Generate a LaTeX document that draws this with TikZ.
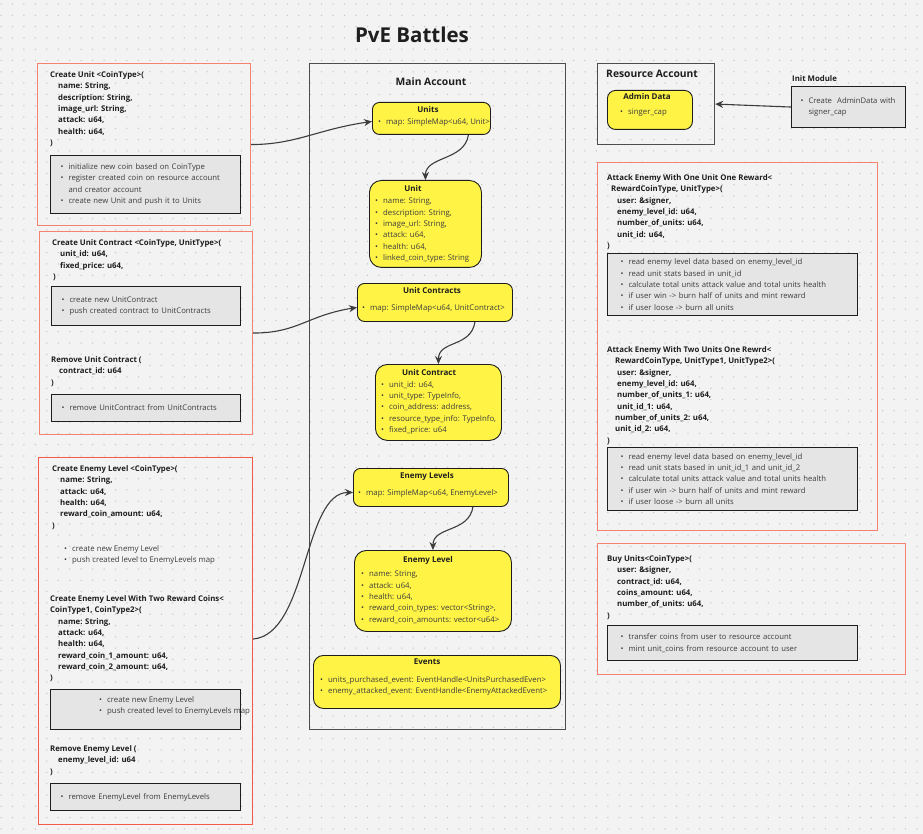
\documentclass[tikz,border=0pt]{standalone}
\usepackage{fontspec}
\setmainfont{Open Sans}
\usepackage{tikz}
\usetikzlibrary{positioning,arrows.meta}

\definecolor{bg}{HTML}{F3F3F3}
\definecolor{dotgray}{HTML}{C6C6C6}
\definecolor{salmon}{HTML}{F4826E}
\definecolor{redline}{HTML}{F45A46}
\definecolor{notegray}{HTML}{E5E5E5}
\definecolor{ink}{HTML}{1E1E1E}
\definecolor{soft}{HTML}{3C3C3C}
\definecolor{frameline}{HTML}{4D4D4D}
\definecolor{yel}{HTML}{FFF445}

\newcommand{\bl}{\makebox[8pt][l]{\textbullet}}
\newcommand{\ind}[1]{\hspace*{#1pt}}

\tikzset{
  sig/.style={anchor=north west,inner sep=0pt,align=left,text=ink,font=\bfseries\fontsize{7.8}{11.3}\selectfont},
  lst/.style={anchor=north west,inner sep=0pt,align=left,text=soft,font=\fontsize{7.8}{11.3}\selectfont},
  fnframe/.style={draw=salmon,line width=1.1pt,anchor=north west,inner sep=0pt},
  acct/.style={draw=frameline,line width=1.1pt,anchor=north west,inner sep=0pt},
  note/.style={draw=ink,fill=notegray,line width=1.1pt,anchor=north west,inner xsep=10pt,inner ysep=0pt,align=left,text=soft,font=\fontsize{7.7}{11.3}\selectfont},
  ybox/.style={draw=ink,fill=yel,line width=0.9pt,anchor=north west,inner sep=0pt,rounded corners=7pt},
  ytitle/.style={inner sep=0pt,text=ink,font=\bfseries\fontsize{8}{9}\selectfont},
  acctitle/.style={inner sep=0pt,text=ink,font=\bfseries\fontsize{10.3}{12}\selectfont},
  link/.style={draw=soft,line width=1.1pt,-{Stealth[length=8pt,width=7pt]}},
}

\begin{document}
\begin{tikzpicture}[x=1pt,y=-1pt]
  \useasboundingbox (0,0) rectangle (923,834);
  \fill[bg] (0,0) rectangle (923,834);
  \foreach \i in {0,...,80}{
    \foreach \j in {0,...,73}{
      \fill[dotgray] ({1+\i*11.45},{4+\j*11.3}) circle (0.75);
    }
  }

  \node[inner sep=0pt,text=ink,font=\bfseries\fontsize{20.5}{22}\selectfont] (title) at (412,35) {PvE Battles};

  % left column
  \node[fnframe,minimum width=213,minimum height=162] (boxA) at (37,63) {};
  \node[sig] (sigA) at (50,71.5) {Create Unit <CoinType>(\\ \ind{8}name: String,\\ \ind{8}description: String,\\ \ind{8}image\_url: String,\\ \ind{8}attack: u64,\\ \ind{8}health: u64,\\ )};
  \node[note,minimum width=190,minimum height=58,text width=170] (noteA) at (50,155) {\bl initialize new coin based on CoinType\\ \bl register created coin on resource account\\ \ind{8}and creator account\\ \bl create new Unit and push it to Units};

  \node[fnframe,minimum width=213,minimum height=203] (boxB) at (39,231) {};
  \node[sig] (sigB) at (52,239.5) {Create Unit Contract <CoinType, UnitType>(\\ \ind{8}unit\_id: u64,\\ \ind{8}fixed\_price: u64,\\ \ind{1})};
  \node[note,minimum width=189,minimum height=39,text width=169] (noteB) at (51,286) {\bl create new UnitContract\\ \bl push created contract to UnitContracts};
  \node[sig] (sigBrm) at (51,356.5) {Remove Unit Contract (\\ \ind{8}contract\_id: u64\\ )};
  \node[note,minimum width=189,minimum height=27,text width=169] (noteBrm) at (51,394) {\bl remove UnitContract from UnitContracts};

  \node[fnframe,draw=redline,minimum width=214,minimum height=367] (boxC) at (38,457) {};
  \node[sig] (sigC) at (52,465.5) {Create Enemy Level <CoinType>(\\ \ind{8}name: String,\\ \ind{8}attack: u64,\\ \ind{8}health: u64,\\ \ind{8}reward\_coin\_amount: u64,\\ )};
  \node[lst] (lstC) at (64,545) {\bl create new Enemy Level\\ \bl push created level to EnemyLevels map};
  \node[sig] (sigCtwo) at (50,595.5) {Create Enemy Level With Two Reward Coins<\\ CoinType1, CoinType2>(\\ \ind{8}name: String,\\ \ind{8}attack: u64,\\ \ind{8}health: u64,\\ \ind{8}reward\_coin\_1\_amount: u64,\\ \ind{8}reward\_coin\_2\_amount: u64,\\ )};
  \node[note,minimum width=190,minimum height=40] (noteCtwo) at (50,689) {};
  \node[lst] (lstCtwo) at (99,696) {\bl create new Enemy Level\\ \bl push created level to EnemyLevels map};
  \node[sig] (sigCrm) at (50,745.5) {Remove Enemy Level (\\ \ind{8}enemy\_level\_id: u64\\ )};
  \node[note,minimum width=190,minimum height=27,text width=170] (noteCrm) at (50,783) {\bl remove EnemyLevel from EnemyLevels};

  % main account
  \node[acct,minimum width=256,minimum height=666] (main) at (309,63) {};
  \node[acctitle] (mainT) at (431,82) {Main Account};

  \node[ybox,minimum width=118,minimum height=32] (units) at (372,102) {};
  \node[ytitle] (unitsT) at (428,110) {Units};
  \node[lst] (unitsL) at (378,118) {\bl map: SimpleMap<u64, Unit>};

  \node[ybox,rounded corners=12pt,minimum width=112,minimum height=87] (unit) at (369,180) {};
  \node[ytitle] (unitT) at (413,189) {Unit};
  \node[lst] (unitL) at (375,198) {\bl name: String,\\ \bl description: String,\\ \bl image\_url: String,\\ \bl attack: u64,\\ \bl health: u64,\\ \bl linked\_coin\_type: String};

  \node[ybox,minimum width=155,minimum height=38] (ucs) at (357,283) {};
  \node[ytitle] (ucsT) at (432,291) {Unit Contracts};
  \node[lst] (ucsL) at (362,304) {\bl map: SimpleMap<u64, UnitContract>};

  \node[ybox,rounded corners=12pt,minimum width=126,minimum height=76] (uc) at (375,364) {};
  \node[ytitle] (ucT) at (429,372) {Unit Contract};
  \node[lst] (ucL) at (381,381) {\bl unit\_id: u64,\\ \bl unit\_type: TypeInfo,\\ \bl coin\_address: address,\\ \bl resource\_type\_info: TypeInfo,\\ \bl fixed\_price: u64};

  \node[ybox,minimum width=155,minimum height=38] (els) at (353,468) {};
  \node[ytitle] (elsT) at (427,476) {Enemy Levels};
  \node[lst] (elsL) at (358,489) {\bl map: SimpleMap<u64, EnemyLevel>};

  \node[ybox,rounded corners=12pt,minimum width=157,minimum height=81] (el) at (354,550) {};
  \node[ytitle] (elT) at (428,560) {Enemy Level};
  \node[lst] (elL) at (361,571) {\bl name: String,\\ \bl attack: u64,\\ \bl health: u64,\\ \bl reward\_coin\_types: vector<String>,\\ \bl reward\_coin\_amounts: vector<u64>};

  \node[ybox,rounded corners=10pt,minimum width=247,minimum height=53] (ev) at (313,655) {};
  \node[ytitle] (evT) at (427,662) {Events};
  \node[lst] (evL) at (320,676) {\bl units\_purchased\_event: EventHandle<UnitsPurchasedEven>\\ \bl enemy\_attacked\_event: EventHandle<EnemyAttackedEvent>};

  % resource account and init
  \node[acct,minimum width=117,minimum height=81] (ra) at (597,63) {};
  \node[acctitle,anchor=west] (raT) at (606,74) {Resource Account};
  \node[ybox,rounded corners=8pt,minimum width=85,minimum height=39] (admin) at (607,90) {};
  \node[ytitle] (adminT) at (647,97) {Admin Data};
  \node[lst] (adminL) at (620,109) {\bl singer\_cap};

  \node[sig,anchor=west] (initT) at (792,79) {Init Module};
  \node[note,minimum width=114,minimum height=41,text width=96,inner xsep=9pt] (init) at (791,86) {\bl Create\ \ AdminData with\\ \ind{8}signer\_cap};

  % right column
  \node[fnframe,minimum width=280,minimum height=368] (boxD) at (597,162) {};
  \node[sig] (sigD) at (607,174.5) {Attack Enemy With One Unit One Reward<\\ \ind{4}RewardCoinType, UnitType>(\\ \ind{10}user: \&signer,\\ \ind{10}enemy\_level\_id: u64,\\ \ind{10}number\_of\_units: u64,\\ \ind{10}unit\_id: u64,\\ )};
  \node[note,minimum width=250,minimum height=62,text width=224,inner xsep=13pt] (noteD) at (607,253) {\bl read enemy level data based on enemy\_level\_id\\ \bl read unit stats based in unit\_id\\ \bl calculate total units attack value and total units health\\ \bl if user win -> burn half of units and mint reward\\ \bl if user loose -> burn all units};
  \node[sig] (sigDtwo) at (607,346.5) {Attack Enemy With Two Units One Rewrd<\\ \ind{8}RewardCoinType, UnitType1, UnitType2>(\\ \ind{10}user: \&signer,\\ \ind{10}enemy\_level\_id: u64,\\ \ind{10}number\_of\_units\_1: u64,\\ \ind{10}unit\_id\_1: u64,\\ \ind{8}number\_of\_units\_2: u64,\\ \ind{8}unit\_id\_2: u64,\\ )};
  \node[note,minimum width=250,minimum height=63,text width=224,inner xsep=13pt] (noteDtwo) at (607,447) {\bl read enemy level data based on enemy\_level\_id\\ \bl read unit stats based in unit\_id\_1 and unit\_id\_2\\ \bl calculate total units attack value and total units health\\ \bl if user win -> burn half of units and mint reward\\ \bl if user loose -> burn all units};

  \node[fnframe,minimum width=308,minimum height=131] (boxE) at (597,543) {};
  \node[sig] (sigE) at (607,555.5) {Buy Units<CoinType>(\\ \ind{10}user: \&signer,\\ \ind{10}contract\_id: u64,\\ \ind{10}coins\_amount: u64,\\ \ind{10}number\_of\_units: u64,\\ )};
  \node[note,minimum width=250,minimum height=35,text width=224,inner xsep=13pt] (noteE) at (607,625) {\bl transfer coins from user to resource account\\ \bl mint unit\_coins from resource account to user};

  % connectors
  \draw[link] (boxA.east) .. controls +(45,0) and +(-55,8) .. ([yshift=-3pt]units.west);
  \draw[link] ([xshift=37pt]units.south) .. controls +(-4,26) and +(0,-24) .. (unit.north);
  \draw[link] (boxB.east) .. controls +(45,0) and +(-50,8) .. ([yshift=-5pt]ucs.west);
  \draw[link] ([xshift=40pt]ucs.south) .. controls +(-4,26) and +(0,-24) .. (uc.north);
  \draw[link] ([yshift=2pt]boxC.east) .. controls +(55,-5) and +(-50,0) .. ([yshift=-5pt]els.west);
  \draw[link] ([xshift=42pt]els.south) .. controls +(-4,26) and +(0,-24) .. (el.north);
  \draw[link] (init.west) -- (ra.east);
\end{tikzpicture}
\end{document}
